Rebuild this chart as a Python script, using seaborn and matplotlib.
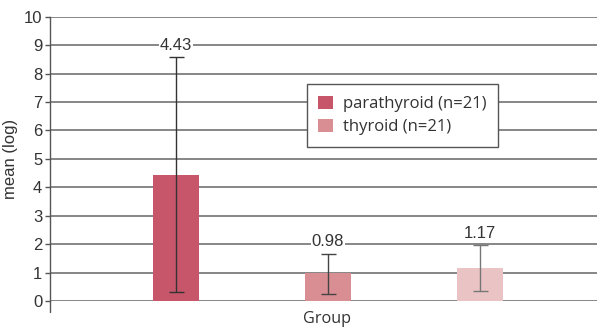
import matplotlib
matplotlib.use("Agg")
import matplotlib.pyplot as plt
import seaborn as sns
import pandas as pd
import numpy as np
from matplotlib.patches import Patch

# Data
groups = ["parathyroid (n=21)", "thyroid (n=21)", "other"]
means = [4.43, 0.98, 1.17]
err_low = [0.31, 0.26, 0.34]
err_high = [8.58, 1.67, 1.97]
labels = ["4.43", "0.98", "1.17"]
colors = ["#C8566A", "#D98E93", "#EAC4C4"]
err_colors = ["#333333", "#444444", "#777777"]
yticks = list(range(0, 11))

sns.set_theme(style="white")
plt.rcParams['font.family'] = ['Liberation Sans', 'DejaVu Sans']

df = pd.DataFrame({"group": groups, "mean": means})

fig = plt.figure(figsize=(5.97, 3.33), dpi=100)
ax = fig.add_axes([50/597, 1 - 301/333, 1 - 50/597, (301 - 16.7)/333])

sns.barplot(data=df, x="group", y="mean", hue="group", palette=colors,
            width=0.30, legend=False, ax=ax, errorbar=None, zorder=3,
            saturation=1, linewidth=0)

ax.set_ylim(0, 10)
ax.set_xlim(-0.829, 2.77)
ax.set_yticks(yticks)
ax.set_yticklabels([str(t) for t in yticks], fontsize=12, color="#333333")
ax.set_xticks([])
for y in yticks:
    ax.axhline(y, color="#666666", lw=1.1, zorder=1)

for sp in ["top", "right", "bottom"]:
    ax.spines[sp].set_visible(False)
ax.spines["left"].set_color("#555555")
ax.spines["left"].set_linewidth(1.0)
ax.plot([0, 0], [0, -0.04], transform=ax.transAxes, color="#555555",
        lw=1.0, clip_on=False)
ax.tick_params(axis="y", which="both", left=True, length=3.6, width=1,
               color="#555555", pad=2)

xs = np.arange(len(groups))
for i in range(len(groups)):
    ax.errorbar(xs[i], means[i],
                yerr=[[means[i] - err_low[i]], [err_high[i] - means[i]]],
                fmt="none", ecolor=err_colors[i], elinewidth=1.0,
                capsize=5.4, capthick=1.0, zorder=4)
    ax.annotate(labels[i], (xs[i], err_high[i]), xytext=(0, 8.6),
                textcoords="offset points", ha="center", va="center",
                fontsize=12, color="#333333", zorder=5,
                bbox=dict(boxstyle="square,pad=0.05", fc="white", ec="none"))

ax.set_ylabel("mean (log)", fontsize=12, color="#333333", labelpad=4)
ax.set_xlabel("")
fig.text(327/597, 1 - 319/333, "Group", ha="center", va="center",
         fontsize=11.7, color="#333333", family=["Open Sans", "DejaVu Sans"])

handles = [Patch(facecolor=colors[0], edgecolor="none"),
           Patch(facecolor=colors[1], edgecolor="none")]
leg = ax.legend(handles, groups[:2], loc="upper left",
                bbox_to_anchor=((306.7 - 50) / 547, (301 - 84.3) / 284.3),
                frameon=True, fancybox=False, framealpha=1,
                edgecolor="#555555",
                prop={"family": ["Open Sans", "DejaVu Sans"], "size": 12},
                handlelength=0.85, handleheight=0.85, handletextpad=0.6,
                borderpad=0.7, labelspacing=0.4, borderaxespad=0)
leg.get_frame().set_linewidth(1.0)
for t in leg.get_texts():
    t.set_color("#333333")
leg.set_zorder(6)

fig.savefig("out.png", dpi=100)
